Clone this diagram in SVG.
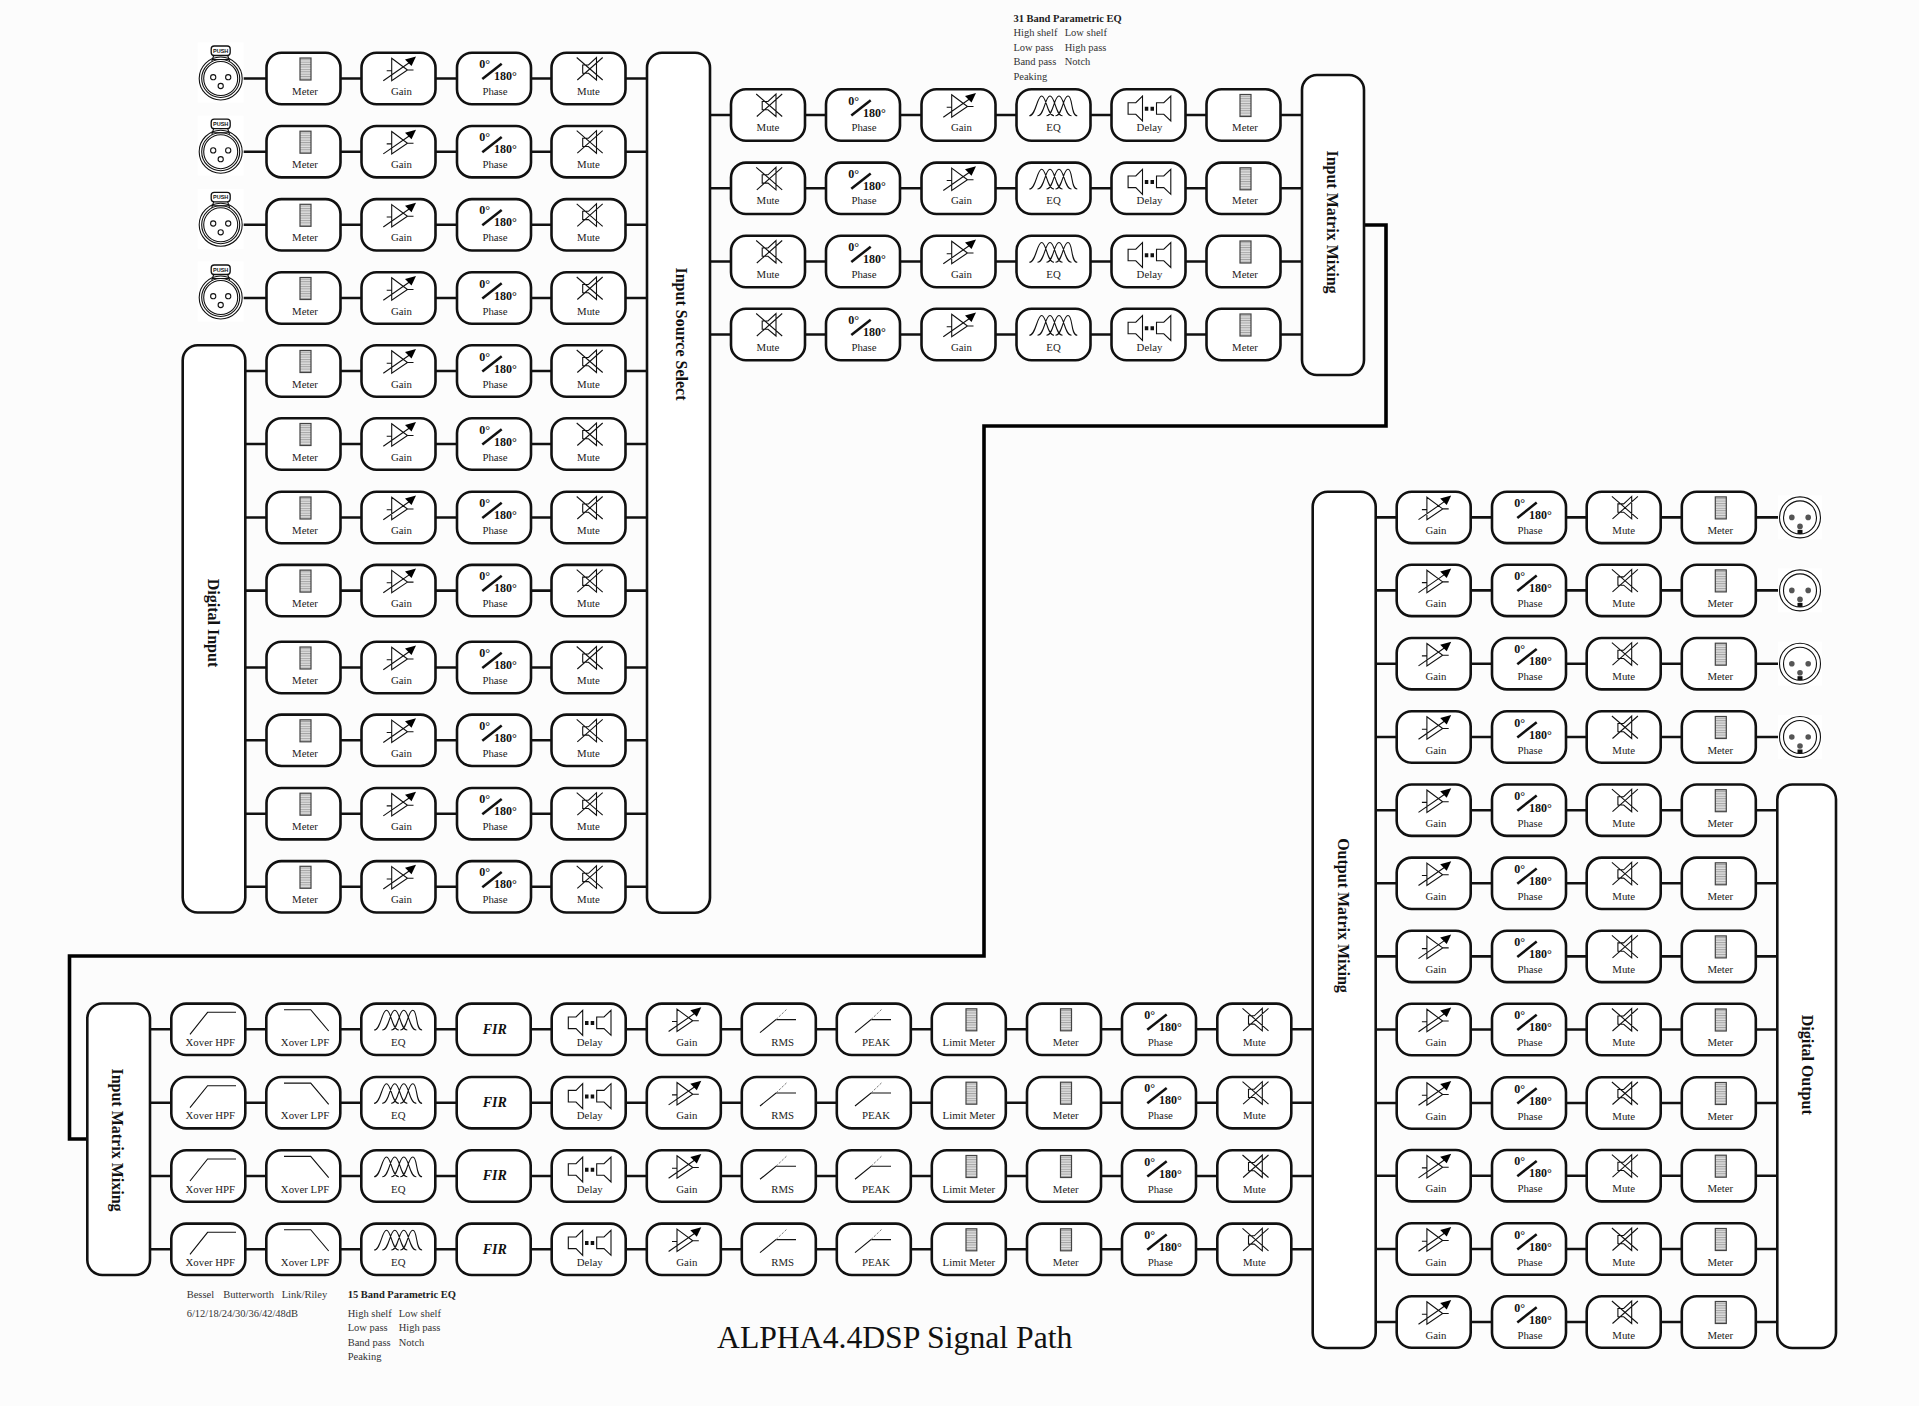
<svg xmlns="http://www.w3.org/2000/svg" width="1919" height="1406" viewBox="0 0 1919 1406">
<style>
text{font-family:"Liberation Serif","Times New Roman",serif;fill:#222}
.n text,text.n{font-size:10.8px;text-anchor:middle}
.d{font-size:12px;font-weight:bold;fill:#111}
.v{font-size:16px;font-weight:bold;text-anchor:middle;fill:#111}
.a{font-size:10.5px;fill:#333}
.h{font-size:10.5px;font-weight:bold;fill:#222}
.t{font-size:31.7px;fill:#111}
.n text.f{font-size:14px;font-weight:bold;font-style:italic;text-anchor:middle;fill:#111}
.p{font-family:"Liberation Sans",Arial,sans-serif;font-size:5.5px;font-weight:bold;text-anchor:middle;fill:#111}
.box{fill:#fff;stroke:#111;stroke-width:2.6}
.i{fill:none;stroke:#111;stroke-width:1.1}
.c{fill:none;stroke:#111;stroke-width:2.6}
.s{fill:none;stroke:#000;stroke-width:3.6}
</style>
<defs>
<pattern id="mp" width="4" height="2.4" patternUnits="userSpaceOnUse"><rect width="4" height="2.4" fill="#dedede"/><rect width="4" height="1" fill="#a4a4a4"/></pattern>
<rect id="R" class="box" x="-37" y="-25.7" width="74" height="51.4" rx="15"/>
<g id="Meter"><use href="#R"/><rect x="-3.5" y="-20.5" width="11" height="22" fill="url(#mp)" stroke="#444" stroke-width="1.2"/></g>
<g id="Limit"><use href="#R"/><rect x="-2.8" y="-20.5" width="10.8" height="22" fill="url(#mp)" stroke="#444" stroke-width="1.2"/></g>
<g id="Gain"><use href="#R"/><path class="i" stroke-width="1.2" d="M-6.8-20.2L9-8.5-6.8 2.2ZM-11.8-7.8H-6.8M9-8.5H15M-15.2 2.2L11-16"/><path d="M17.5-22L6.5-19 13-12.5Z" fill="#000"/></g>
<g id="Phase"><use href="#R"/><path d="M-11.7.5L7.7-14.8" stroke="#111" stroke-width="2.5" fill="none"/><text class="d" x="-14.7" y="-10.5">0°</text><text class="d" y="1.5">180°</text></g>
<g id="Mute"><use href="#R"/><path class="i" d="M-5.8-13.5H0L8-21V1.5L0-5.2H-5.8ZM-11.8-21L14.2 1.5M14.2-21L-11.2 1.5"/></g>
<g id="EQ"><use href="#R"/><path class="i" stroke-width="1.2" d="M-24.2.7C-17.5.7-16.5-19-11.8-19S-6.5.7 .5.7M-16 .7C-9 .7-8.5-19-3.5-19S2 .7 9 .7M-7 .7C0 .7 .5-19 5.5-19S11 .7 18 .7M2 .7C9 .7 9.5-19 14.5-19S17 .7 23.8 .7"/></g>
<g id="Delay"><use href="#R"/><path class="i" stroke-width="1.2" d="M-20.4-12.3H-12.7L-6-19V6L-12.7-.7H-20.4ZM8-12.3H15.3L22.3-19V6L15.3-.7H8Z"/><path d="M-3.7-8.3h3.5v4h-3.5ZM2-8.3h3.5v4h-3.5Z" fill="#111"/></g>
<g id="HPF"><use href="#R"/><path class="i" stroke-width="1.3" d="M-18.3 5L-.7-17H27.7"/></g>
<g id="LPF"><use href="#R"/><path class="i" stroke-width="1.3" d="M-19.3-19.6H7.4L25.4 1.7"/></g>
<g id="Curve"><use href="#R"/><path class="i" stroke-width="1.2" d="M-18.8 3.3L-2.8-9.7H17.2"/><path d="M-2.8-9.7L7.9-20" fill="none" stroke="#777" stroke-dasharray="2.5 1.5"/></g>
<g id="In"><rect x="-23" y="-36" width="46" height="60" fill="#fff"/><circle r="21.5" class="i" stroke-width="2.6"/><circle r="19" class="i" stroke-width=".9"/><circle r="17" class="i" stroke-width="1.4"/><circle cx="-7.5" cy="-1.3" r="2.6" class="i"/><circle cx="7.5" cy="-1.3" r="2.6" class="i"/><circle cy="7.5" r="2.6" class="i"/><rect x="-9.5" y="-32.5" width="19" height="9.5" rx="3" fill="#fff" stroke="#111" stroke-width="1.3"/><path class="i" d="M-7-23L-9-17M7-23L9-17M-9-19H9"/></g>
<g id="Out"><rect x="-22" y="-22" width="44" height="44" fill="#fff"/><circle r="20.5" class="i" stroke-width="2.4"/><circle r="16.5" class="i" stroke-width="1.6"/><circle cx="-8.2" r="2.8" fill="#555"/><circle cx="8.2" r="2.8" fill="#555"/><circle cy="9" r="2.8" fill="#555"/><rect x="-2.5" y="12.5" width="5" height="4" fill="#111"/></g>
<path id="ca" d="M340 0H362M435 0H457M530 0H552M625 0H647"/>
<path id="cb" d="M710 0H731M805 0H826M900 0H922M995 0H1017M1090 0H1112M1185 0H1207M1280 0H1302"/>
<path id="cc" d="M150 0H172M245 0H267M340 0H362M435 0H457M530 0H552M625 0H647M720 0H742M815 0H837M910 0H932M1006 0H1027M1101 0H1122M1196 0H1217M1291 0H1313"/>
<path id="cd" d="M1375 0H1397M1470 0H1492M1566 0H1587M1660 0H1682"/>
</defs>
<rect width="1919" height="1406" fill="#fcfcfc"/>
<g id="connectors" class="c">
<path d="M243 78.5H267M243 151.7H267M243 224.8H267M243 298H267"/>
<path d="M245 371H267M245 444H267M245 517.5H267M245 590.6H267M245 667.5H267M245 740.3H267M245 813.7H267M245 886.8H267"/>
<use href="#ca" y="78.5"/><use href="#ca" y="151.7"/><use href="#ca" y="224.8"/><use href="#ca" y="298"/><use href="#ca" y="371"/><use href="#ca" y="444"/><use href="#ca" y="517.5"/><use href="#ca" y="590.6"/><use href="#ca" y="667.5"/><use href="#ca" y="740.3"/><use href="#ca" y="813.7"/><use href="#ca" y="886.8"/>
<use href="#cb" y="115"/><use href="#cb" y="188.3"/><use href="#cb" y="261.5"/><use href="#cb" y="334.5"/>
<use href="#cc" y="1029.3"/><use href="#cc" y="1102.7"/><use href="#cc" y="1176"/><use href="#cc" y="1249.3"/>
<use href="#cd" y="517.4"/><use href="#cd" y="590.4"/><use href="#cd" y="663.7"/><use href="#cd" y="737"/><use href="#cd" y="810.2"/><use href="#cd" y="883.3"/><use href="#cd" y="956.4"/><use href="#cd" y="1029.5"/><use href="#cd" y="1103"/><use href="#cd" y="1175.7"/><use href="#cd" y="1249"/><use href="#cd" y="1322"/>
<path d="M1756 517.4H1779M1756 590.4H1779M1756 663.7H1779M1756 737H1779"/>
<path d="M1756 810.2H1777M1756 883.3H1777M1756 956.4H1777M1756 1029.5H1777M1756 1103H1777M1756 1175.7H1777M1756 1249H1777M1756 1322H1777"/>
<path class="s" d="M1364 225H1386V426H984V956H69.5V1139H88"/>
</g>
<g id="big-boxes">
<g id="digital-input"><rect class="box" x="182.7" y="345.3" width="62.6" height="567.2" rx="15"/><text class="v" transform="translate(207.5,623) rotate(90)">Digital Input</text></g>
<g id="input-source-select"><rect class="box" x="647" y="52.7" width="63" height="860" rx="15"/><text class="v" transform="translate(676,334) rotate(90)">Input Source Select</text></g>
<g id="input-matrix-1"><rect class="box" x="1302" y="75" width="62" height="300" rx="15"/><text class="v" transform="translate(1327,222) rotate(90)">Input Matrix Mixing</text></g>
<g id="input-matrix-2"><rect class="box" x="87.3" y="1003.5" width="62.7" height="271.5" rx="15"/><text class="v" transform="translate(112.3,1140) rotate(90)">Input Matrix Mixing</text></g>
<g id="output-matrix"><rect class="box" x="1312.7" y="491.8" width="63" height="856.2" rx="15"/><text class="v" transform="translate(1337.5,915.5) rotate(90)">Output Matrix Mixing</text></g>
<g id="digital-output"><rect class="box" x="1777.3" y="784.5" width="58.7" height="563.5" rx="15"/><text class="v" transform="translate(1801.5,1064.7) rotate(90)">Digital Output</text></g>
</g>
<g id="xlr-inputs">
<g id="xi1" transform="translate(220.7,78.5)"><use href="#In"/><text class="p" y="-25.8">PUSH</text></g>
<g id="xi2" transform="translate(220.7,151.7)"><use href="#In"/><text class="p" y="-25.8">PUSH</text></g>
<g id="xi3" transform="translate(220.7,224.8)"><use href="#In"/><text class="p" y="-25.8">PUSH</text></g>
<g id="xi4" transform="translate(220.7,297.5)"><use href="#In"/><text class="p" y="-25.8">PUSH</text></g>
</g>
<g id="xlr-outputs">
<g id="xo1" transform="translate(1800,517.4)"><use href="#Out"/></g>
<g id="xo2" transform="translate(1800,590.4)"><use href="#Out"/></g>
<g id="xo3" transform="translate(1800,663.7)"><use href="#Out"/></g>
<g id="xo4" transform="translate(1800,737)"><use href="#Out"/></g>
</g>
<g id="input-channels" class="n">
<g id="a1m" transform="translate(303.5,78.5)"><use href="#Meter"/><text x="1.5" y="16.7">Meter</text></g><g id="a1g" transform="translate(398.5,78.5)"><use href="#Gain"/><text x="3" y="16.7">Gain</text></g><g id="a1p" transform="translate(494,78.5)"><use href="#Phase"/><text x="1" y="16.7">Phase</text></g><g id="a1x" transform="translate(588.5,78.5)"><use href="#Mute"/><text y="16.7">Mute</text></g>
<g id="a2m" transform="translate(303.5,151.7)"><use href="#Meter"/><text x="1.5" y="16.7">Meter</text></g><g id="a2g" transform="translate(398.5,151.7)"><use href="#Gain"/><text x="3" y="16.7">Gain</text></g><g id="a2p" transform="translate(494,151.7)"><use href="#Phase"/><text x="1" y="16.7">Phase</text></g><g id="a2x" transform="translate(588.5,151.7)"><use href="#Mute"/><text y="16.7">Mute</text></g>
<g id="a3m" transform="translate(303.5,224.8)"><use href="#Meter"/><text x="1.5" y="16.7">Meter</text></g><g id="a3g" transform="translate(398.5,224.8)"><use href="#Gain"/><text x="3" y="16.7">Gain</text></g><g id="a3p" transform="translate(494,224.8)"><use href="#Phase"/><text x="1" y="16.7">Phase</text></g><g id="a3x" transform="translate(588.5,224.8)"><use href="#Mute"/><text y="16.7">Mute</text></g>
<g id="a4m" transform="translate(303.5,298)"><use href="#Meter"/><text x="1.5" y="16.7">Meter</text></g><g id="a4g" transform="translate(398.5,298)"><use href="#Gain"/><text x="3" y="16.7">Gain</text></g><g id="a4p" transform="translate(494,298)"><use href="#Phase"/><text x="1" y="16.7">Phase</text></g><g id="a4x" transform="translate(588.5,298)"><use href="#Mute"/><text y="16.7">Mute</text></g>
<g id="a5m" transform="translate(303.5,371)"><use href="#Meter"/><text x="1.5" y="16.7">Meter</text></g><g id="a5g" transform="translate(398.5,371)"><use href="#Gain"/><text x="3" y="16.7">Gain</text></g><g id="a5p" transform="translate(494,371)"><use href="#Phase"/><text x="1" y="16.7">Phase</text></g><g id="a5x" transform="translate(588.5,371)"><use href="#Mute"/><text y="16.7">Mute</text></g>
<g id="a6m" transform="translate(303.5,444)"><use href="#Meter"/><text x="1.5" y="16.7">Meter</text></g><g id="a6g" transform="translate(398.5,444)"><use href="#Gain"/><text x="3" y="16.7">Gain</text></g><g id="a6p" transform="translate(494,444)"><use href="#Phase"/><text x="1" y="16.7">Phase</text></g><g id="a6x" transform="translate(588.5,444)"><use href="#Mute"/><text y="16.7">Mute</text></g>
<g id="a7m" transform="translate(303.5,517.5)"><use href="#Meter"/><text x="1.5" y="16.7">Meter</text></g><g id="a7g" transform="translate(398.5,517.5)"><use href="#Gain"/><text x="3" y="16.7">Gain</text></g><g id="a7p" transform="translate(494,517.5)"><use href="#Phase"/><text x="1" y="16.7">Phase</text></g><g id="a7x" transform="translate(588.5,517.5)"><use href="#Mute"/><text y="16.7">Mute</text></g>
<g id="a8m" transform="translate(303.5,590.6)"><use href="#Meter"/><text x="1.5" y="16.7">Meter</text></g><g id="a8g" transform="translate(398.5,590.6)"><use href="#Gain"/><text x="3" y="16.7">Gain</text></g><g id="a8p" transform="translate(494,590.6)"><use href="#Phase"/><text x="1" y="16.7">Phase</text></g><g id="a8x" transform="translate(588.5,590.6)"><use href="#Mute"/><text y="16.7">Mute</text></g>
<g id="a9m" transform="translate(303.5,667.5)"><use href="#Meter"/><text x="1.5" y="16.7">Meter</text></g><g id="a9g" transform="translate(398.5,667.5)"><use href="#Gain"/><text x="3" y="16.7">Gain</text></g><g id="a9p" transform="translate(494,667.5)"><use href="#Phase"/><text x="1" y="16.7">Phase</text></g><g id="a9x" transform="translate(588.5,667.5)"><use href="#Mute"/><text y="16.7">Mute</text></g>
<g id="a10m" transform="translate(303.5,740.3)"><use href="#Meter"/><text x="1.5" y="16.7">Meter</text></g><g id="a10g" transform="translate(398.5,740.3)"><use href="#Gain"/><text x="3" y="16.7">Gain</text></g><g id="a10p" transform="translate(494,740.3)"><use href="#Phase"/><text x="1" y="16.7">Phase</text></g><g id="a10x" transform="translate(588.5,740.3)"><use href="#Mute"/><text y="16.7">Mute</text></g>
<g id="a11m" transform="translate(303.5,813.7)"><use href="#Meter"/><text x="1.5" y="16.7">Meter</text></g><g id="a11g" transform="translate(398.5,813.7)"><use href="#Gain"/><text x="3" y="16.7">Gain</text></g><g id="a11p" transform="translate(494,813.7)"><use href="#Phase"/><text x="1" y="16.7">Phase</text></g><g id="a11x" transform="translate(588.5,813.7)"><use href="#Mute"/><text y="16.7">Mute</text></g>
<g id="a12m" transform="translate(303.5,886.8)"><use href="#Meter"/><text x="1.5" y="16.7">Meter</text></g><g id="a12g" transform="translate(398.5,886.8)"><use href="#Gain"/><text x="3" y="16.7">Gain</text></g><g id="a12p" transform="translate(494,886.8)"><use href="#Phase"/><text x="1" y="16.7">Phase</text></g><g id="a12x" transform="translate(588.5,886.8)"><use href="#Mute"/><text y="16.7">Mute</text></g>
</g>
<g id="input-dsp" class="n">
<g id="b1x" transform="translate(768,115)"><use href="#Mute"/><text y="16">Mute</text></g><g id="b1p" transform="translate(863,115)"><use href="#Phase"/><text x="1" y="16">Phase</text></g><g id="b1g" transform="translate(958.5,115)"><use href="#Gain"/><text x="3" y="16">Gain</text></g><g id="b1e" transform="translate(1053.5,115)"><use href="#EQ"/><text y="16">EQ</text></g><g id="b1d" transform="translate(1148.5,115)"><use href="#Delay"/><text x="1" y="16">Delay</text></g><g id="b1m" transform="translate(1243.5,115)"><use href="#Meter"/><text x="1.5" y="16">Meter</text></g>
<g id="b2x" transform="translate(768,188.3)"><use href="#Mute"/><text y="16">Mute</text></g><g id="b2p" transform="translate(863,188.3)"><use href="#Phase"/><text x="1" y="16">Phase</text></g><g id="b2g" transform="translate(958.5,188.3)"><use href="#Gain"/><text x="3" y="16">Gain</text></g><g id="b2e" transform="translate(1053.5,188.3)"><use href="#EQ"/><text y="16">EQ</text></g><g id="b2d" transform="translate(1148.5,188.3)"><use href="#Delay"/><text x="1" y="16">Delay</text></g><g id="b2m" transform="translate(1243.5,188.3)"><use href="#Meter"/><text x="1.5" y="16">Meter</text></g>
<g id="b3x" transform="translate(768,261.5)"><use href="#Mute"/><text y="16">Mute</text></g><g id="b3p" transform="translate(863,261.5)"><use href="#Phase"/><text x="1" y="16">Phase</text></g><g id="b3g" transform="translate(958.5,261.5)"><use href="#Gain"/><text x="3" y="16">Gain</text></g><g id="b3e" transform="translate(1053.5,261.5)"><use href="#EQ"/><text y="16">EQ</text></g><g id="b3d" transform="translate(1148.5,261.5)"><use href="#Delay"/><text x="1" y="16">Delay</text></g><g id="b3m" transform="translate(1243.5,261.5)"><use href="#Meter"/><text x="1.5" y="16">Meter</text></g>
<g id="b4x" transform="translate(768,334.5)"><use href="#Mute"/><text y="16">Mute</text></g><g id="b4p" transform="translate(863,334.5)"><use href="#Phase"/><text x="1" y="16">Phase</text></g><g id="b4g" transform="translate(958.5,334.5)"><use href="#Gain"/><text x="3" y="16">Gain</text></g><g id="b4e" transform="translate(1053.5,334.5)"><use href="#EQ"/><text y="16">EQ</text></g><g id="b4d" transform="translate(1148.5,334.5)"><use href="#Delay"/><text x="1" y="16">Delay</text></g><g id="b4m" transform="translate(1243.5,334.5)"><use href="#Meter"/><text x="1.5" y="16">Meter</text></g>
</g>
<g id="output-dsp" class="n">
<g id="c1h" transform="translate(208.3,1029.3)"><use href="#HPF"/><text x="2" y="16.7">Xover HPF</text></g><g id="c1l" transform="translate(303.3,1029.3)"><use href="#LPF"/><text x="1.7" y="16.7">Xover LPF</text></g><g id="c1e" transform="translate(398.3,1029.3)"><use href="#EQ"/><text y="16.7">EQ</text></g><g id="c1f" transform="translate(493.7,1029.3)"><use href="#R"/><text class="f" x="1" y="4.2">FIR</text></g><g id="c1d" transform="translate(588.7,1029.3)"><use href="#Delay"/><text x="1" y="16.7">Delay</text></g><g id="c1g" transform="translate(683.8,1029.3)"><use href="#Gain"/><text x="3" y="16.7">Gain</text></g><g id="c1r" transform="translate(778.8,1029.3)"><use href="#Curve"/><text x="3.9" y="16.7">RMS</text></g><g id="c1k" transform="translate(873.8,1029.3)"><use href="#Curve"/><text x="2.2" y="16.7">PEAK</text></g><g id="c1t" transform="translate(968.8,1029.3)"><use href="#Limit"/><text y="16.7">Limit Meter</text></g><g id="c1m" transform="translate(1064,1029.3)"><use href="#Meter"/><text x="1.7" y="16.7">Meter</text></g><g id="c1p" transform="translate(1159,1029.3)"><use href="#Phase"/><text x="1.3" y="16.7">Phase</text></g><g id="c1x" transform="translate(1254.3,1029.3)"><use href="#Mute"/><text y="16.7">Mute</text></g>
<g id="c2h" transform="translate(208.3,1102.7)"><use href="#HPF"/><text x="2" y="16.7">Xover HPF</text></g><g id="c2l" transform="translate(303.3,1102.7)"><use href="#LPF"/><text x="1.7" y="16.7">Xover LPF</text></g><g id="c2e" transform="translate(398.3,1102.7)"><use href="#EQ"/><text y="16.7">EQ</text></g><g id="c2f" transform="translate(493.7,1102.7)"><use href="#R"/><text class="f" x="1" y="4.2">FIR</text></g><g id="c2d" transform="translate(588.7,1102.7)"><use href="#Delay"/><text x="1" y="16.7">Delay</text></g><g id="c2g" transform="translate(683.8,1102.7)"><use href="#Gain"/><text x="3" y="16.7">Gain</text></g><g id="c2r" transform="translate(778.8,1102.7)"><use href="#Curve"/><text x="3.9" y="16.7">RMS</text></g><g id="c2k" transform="translate(873.8,1102.7)"><use href="#Curve"/><text x="2.2" y="16.7">PEAK</text></g><g id="c2t" transform="translate(968.8,1102.7)"><use href="#Limit"/><text y="16.7">Limit Meter</text></g><g id="c2m" transform="translate(1064,1102.7)"><use href="#Meter"/><text x="1.7" y="16.7">Meter</text></g><g id="c2p" transform="translate(1159,1102.7)"><use href="#Phase"/><text x="1.3" y="16.7">Phase</text></g><g id="c2x" transform="translate(1254.3,1102.7)"><use href="#Mute"/><text y="16.7">Mute</text></g>
<g id="c3h" transform="translate(208.3,1176)"><use href="#HPF"/><text x="2" y="16.7">Xover HPF</text></g><g id="c3l" transform="translate(303.3,1176)"><use href="#LPF"/><text x="1.7" y="16.7">Xover LPF</text></g><g id="c3e" transform="translate(398.3,1176)"><use href="#EQ"/><text y="16.7">EQ</text></g><g id="c3f" transform="translate(493.7,1176)"><use href="#R"/><text class="f" x="1" y="4.2">FIR</text></g><g id="c3d" transform="translate(588.7,1176)"><use href="#Delay"/><text x="1" y="16.7">Delay</text></g><g id="c3g" transform="translate(683.8,1176)"><use href="#Gain"/><text x="3" y="16.7">Gain</text></g><g id="c3r" transform="translate(778.8,1176)"><use href="#Curve"/><text x="3.9" y="16.7">RMS</text></g><g id="c3k" transform="translate(873.8,1176)"><use href="#Curve"/><text x="2.2" y="16.7">PEAK</text></g><g id="c3t" transform="translate(968.8,1176)"><use href="#Limit"/><text y="16.7">Limit Meter</text></g><g id="c3m" transform="translate(1064,1176)"><use href="#Meter"/><text x="1.7" y="16.7">Meter</text></g><g id="c3p" transform="translate(1159,1176)"><use href="#Phase"/><text x="1.3" y="16.7">Phase</text></g><g id="c3x" transform="translate(1254.3,1176)"><use href="#Mute"/><text y="16.7">Mute</text></g>
<g id="c4h" transform="translate(208.3,1249.3)"><use href="#HPF"/><text x="2" y="16.7">Xover HPF</text></g><g id="c4l" transform="translate(303.3,1249.3)"><use href="#LPF"/><text x="1.7" y="16.7">Xover LPF</text></g><g id="c4e" transform="translate(398.3,1249.3)"><use href="#EQ"/><text y="16.7">EQ</text></g><g id="c4f" transform="translate(493.7,1249.3)"><use href="#R"/><text class="f" x="1" y="4.2">FIR</text></g><g id="c4d" transform="translate(588.7,1249.3)"><use href="#Delay"/><text x="1" y="16.7">Delay</text></g><g id="c4g" transform="translate(683.8,1249.3)"><use href="#Gain"/><text x="3" y="16.7">Gain</text></g><g id="c4r" transform="translate(778.8,1249.3)"><use href="#Curve"/><text x="3.9" y="16.7">RMS</text></g><g id="c4k" transform="translate(873.8,1249.3)"><use href="#Curve"/><text x="2.2" y="16.7">PEAK</text></g><g id="c4t" transform="translate(968.8,1249.3)"><use href="#Limit"/><text y="16.7">Limit Meter</text></g><g id="c4m" transform="translate(1064,1249.3)"><use href="#Meter"/><text x="1.7" y="16.7">Meter</text></g><g id="c4p" transform="translate(1159,1249.3)"><use href="#Phase"/><text x="1.3" y="16.7">Phase</text></g><g id="c4x" transform="translate(1254.3,1249.3)"><use href="#Mute"/><text y="16.7">Mute</text></g>
</g>
<g id="output-channels" class="n">
<g id="d1g" transform="translate(1433.7,517.4)"><use href="#Gain"/><text x="2.3" y="16.7">Gain</text></g><g id="d1p" transform="translate(1529,517.4)"><use href="#Phase"/><text x="1" y="16.7">Phase</text></g><g id="d1x" transform="translate(1623.7,517.4)"><use href="#Mute"/><text y="16.7">Mute</text></g><g id="d1m" transform="translate(1718.8,517.4)"><use href="#Meter"/><text x="1.5" y="16.7">Meter</text></g>
<g id="d2g" transform="translate(1433.7,590.4)"><use href="#Gain"/><text x="2.3" y="16.7">Gain</text></g><g id="d2p" transform="translate(1529,590.4)"><use href="#Phase"/><text x="1" y="16.7">Phase</text></g><g id="d2x" transform="translate(1623.7,590.4)"><use href="#Mute"/><text y="16.7">Mute</text></g><g id="d2m" transform="translate(1718.8,590.4)"><use href="#Meter"/><text x="1.5" y="16.7">Meter</text></g>
<g id="d3g" transform="translate(1433.7,663.7)"><use href="#Gain"/><text x="2.3" y="16.7">Gain</text></g><g id="d3p" transform="translate(1529,663.7)"><use href="#Phase"/><text x="1" y="16.7">Phase</text></g><g id="d3x" transform="translate(1623.7,663.7)"><use href="#Mute"/><text y="16.7">Mute</text></g><g id="d3m" transform="translate(1718.8,663.7)"><use href="#Meter"/><text x="1.5" y="16.7">Meter</text></g>
<g id="d4g" transform="translate(1433.7,737)"><use href="#Gain"/><text x="2.3" y="16.7">Gain</text></g><g id="d4p" transform="translate(1529,737)"><use href="#Phase"/><text x="1" y="16.7">Phase</text></g><g id="d4x" transform="translate(1623.7,737)"><use href="#Mute"/><text y="16.7">Mute</text></g><g id="d4m" transform="translate(1718.8,737)"><use href="#Meter"/><text x="1.5" y="16.7">Meter</text></g>
<g id="d5g" transform="translate(1433.7,810.2)"><use href="#Gain"/><text x="2.3" y="16.7">Gain</text></g><g id="d5p" transform="translate(1529,810.2)"><use href="#Phase"/><text x="1" y="16.7">Phase</text></g><g id="d5x" transform="translate(1623.7,810.2)"><use href="#Mute"/><text y="16.7">Mute</text></g><g id="d5m" transform="translate(1718.8,810.2)"><use href="#Meter"/><text x="1.5" y="16.7">Meter</text></g>
<g id="d6g" transform="translate(1433.7,883.3)"><use href="#Gain"/><text x="2.3" y="16.7">Gain</text></g><g id="d6p" transform="translate(1529,883.3)"><use href="#Phase"/><text x="1" y="16.7">Phase</text></g><g id="d6x" transform="translate(1623.7,883.3)"><use href="#Mute"/><text y="16.7">Mute</text></g><g id="d6m" transform="translate(1718.8,883.3)"><use href="#Meter"/><text x="1.5" y="16.7">Meter</text></g>
<g id="d7g" transform="translate(1433.7,956.4)"><use href="#Gain"/><text x="2.3" y="16.7">Gain</text></g><g id="d7p" transform="translate(1529,956.4)"><use href="#Phase"/><text x="1" y="16.7">Phase</text></g><g id="d7x" transform="translate(1623.7,956.4)"><use href="#Mute"/><text y="16.7">Mute</text></g><g id="d7m" transform="translate(1718.8,956.4)"><use href="#Meter"/><text x="1.5" y="16.7">Meter</text></g>
<g id="d8g" transform="translate(1433.7,1029.5)"><use href="#Gain"/><text x="2.3" y="16.7">Gain</text></g><g id="d8p" transform="translate(1529,1029.5)"><use href="#Phase"/><text x="1" y="16.7">Phase</text></g><g id="d8x" transform="translate(1623.7,1029.5)"><use href="#Mute"/><text y="16.7">Mute</text></g><g id="d8m" transform="translate(1718.8,1029.5)"><use href="#Meter"/><text x="1.5" y="16.7">Meter</text></g>
<g id="d9g" transform="translate(1433.7,1103)"><use href="#Gain"/><text x="2.3" y="16.7">Gain</text></g><g id="d9p" transform="translate(1529,1103)"><use href="#Phase"/><text x="1" y="16.7">Phase</text></g><g id="d9x" transform="translate(1623.7,1103)"><use href="#Mute"/><text y="16.7">Mute</text></g><g id="d9m" transform="translate(1718.8,1103)"><use href="#Meter"/><text x="1.5" y="16.7">Meter</text></g>
<g id="d10g" transform="translate(1433.7,1175.7)"><use href="#Gain"/><text x="2.3" y="16.7">Gain</text></g><g id="d10p" transform="translate(1529,1175.7)"><use href="#Phase"/><text x="1" y="16.7">Phase</text></g><g id="d10x" transform="translate(1623.7,1175.7)"><use href="#Mute"/><text y="16.7">Mute</text></g><g id="d10m" transform="translate(1718.8,1175.7)"><use href="#Meter"/><text x="1.5" y="16.7">Meter</text></g>
<g id="d11g" transform="translate(1433.7,1249)"><use href="#Gain"/><text x="2.3" y="16.7">Gain</text></g><g id="d11p" transform="translate(1529,1249)"><use href="#Phase"/><text x="1" y="16.7">Phase</text></g><g id="d11x" transform="translate(1623.7,1249)"><use href="#Mute"/><text y="16.7">Mute</text></g><g id="d11m" transform="translate(1718.8,1249)"><use href="#Meter"/><text x="1.5" y="16.7">Meter</text></g>
<g id="d12g" transform="translate(1433.7,1322)"><use href="#Gain"/><text x="2.3" y="16.7">Gain</text></g><g id="d12p" transform="translate(1529,1322)"><use href="#Phase"/><text x="1" y="16.7">Phase</text></g><g id="d12x" transform="translate(1623.7,1322)"><use href="#Mute"/><text y="16.7">Mute</text></g><g id="d12m" transform="translate(1718.8,1322)"><use href="#Meter"/><text x="1.5" y="16.7">Meter</text></g>
</g>
<g id="notes">
<text class="h" x="1013.4" y="21.7">31 Band Parametric EQ</text>
<text class="a" x="1013.4" y="35.7">High shelf</text><text class="a" x="1064.7" y="35.7">Low shelf</text>
<text class="a" x="1013.4" y="50.7">Low pass</text><text class="a" x="1064.7" y="50.7">High pass</text>
<text class="a" x="1013.4" y="65.3">Band pass</text><text class="a" x="1064.7" y="65.3">Notch</text>
<text class="a" x="1013.4" y="80">Peaking</text>
<text class="a" x="186.7" y="1298">Bessel</text><text class="a" x="223.3" y="1298">Butterworth</text><text class="a" x="281.7" y="1298">Link/Riley</text>
<text class="a" x="186.7" y="1316.7">6/12/18/24/30/36/42/48dB</text>
<text class="h" x="347.7" y="1298">15 Band Parametric EQ</text>
<text class="a" x="347.7" y="1316.7">High shelf</text><text class="a" x="398.7" y="1316.7">Low shelf</text>
<text class="a" x="347.7" y="1331.3">Low pass</text><text class="a" x="398.7" y="1331.3">High pass</text>
<text class="a" x="347.7" y="1345.7">Band pass</text><text class="a" x="398.7" y="1345.7">Notch</text>
<text class="a" x="347.7" y="1360">Peaking</text>
<text class="t" x="717" y="1348">ALPHA4.4DSP Signal Path</text>
</g>
</svg>
